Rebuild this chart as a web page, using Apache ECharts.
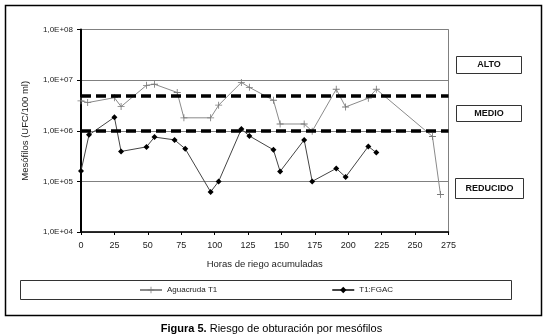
<!DOCTYPE html>
<html>
<head>
<meta charset="utf-8">
<script src="https://cdn.jsdelivr.net/npm/echarts@6/dist/echarts.min.js"></script>
<style>
  html, body { margin: 0; padding: 0; background: #fff; }
  #chart { width: 543px; height: 336px; }
</style>
</head>
<body>
<div id="chart"></div>
<script>
// hours of irrigation and mesophile counts (UFC/100 ml)
const aguaHours = [0, 5, 25, 30, 49, 55, 72, 77, 97, 103, 120, 126, 144, 149, 167, 173, 191, 198, 215, 221, 263, 269]
const aguaValues = [3.9e6, 3.6e6, 4.5e6, 3.0e6, 7.9e6, 8.3e6, 5.7e6, 1.8e6, 1.8e6, 3.2e6, 9.0e6, 7.2e6, 4.0e6, 1.36e6, 1.36e6, 9.8e5, 6.6e6, 2.95e6, 4.4e6, 6.6e6, 7.7e5, 5.5e4]
const fgacHours = [0, 6, 25, 30, 49, 55, 70, 78, 97, 103, 120, 126, 144, 149, 167, 173, 191, 198, 215, 221]
const fgacValues = [1.6e5, 8.3e5, 1.85e6, 3.9e5, 4.8e5, 7.5e5, 6.6e5, 4.4e5, 6.2e4, 1.0e5, 1.08e6, 7.9e5, 4.2e5, 1.57e5, 6.6e5, 1.0e5, 1.8e5, 1.22e5, 4.9e5, 3.7e5]
const thresholds = [5e6, 1e6]
const xTicks = { min: 0, max: 275, interval: 25 }
const riskLabels = ['ALTO', 'MEDIO', 'REDUCIDO']

const font = 'Liberation Sans, Arial, sans-serif'
let chart = echarts.init(document.getElementById('chart'))

const plusIcon = 'path://M4.4,0H5.6V4.4H10V5.6H5.6V10H4.4V5.6H0V4.4H4.4Z'

function riskBox (text, x, y, w, h) {
  return {
    type: 'group',
    left: x,
    top: y,
    children: [
      { type: 'rect', shape: { x: 0, y: 0, width: w, height: h }, style: { fill: '#fff', stroke: '#333', lineWidth: 1 } },
      { type: 'text', style: { x: w / 2, y: h / 2, text: text, fill: '#111', font: 'bold 9px ' + font, align: 'center', verticalAlign: 'middle' } }
    ]
  }
}

let option = {
  animation: false,
  textStyle: { fontFamily: font },
  title: {
    text: '{b|Figura 5.} Riesgo de obturación por mesófilos',
    left: 'center',
    top: 318,
    textStyle: {
      fontSize: 11,
      fontWeight: 'normal',
      color: '#000',
      fontFamily: font,
      rich: { b: { fontWeight: 'bold', fontSize: 11, fontFamily: font, color: '#000' } }
    }
  },
  grid: {
    left: 81,
    right: 94.5,
    top: 29.5,
    height: 202.5,
    show: true,
    borderColor: '#808080',
    borderWidth: 1
  },
  legend: {
    left: 134,
    top: 281,
    itemGap: 114,
    itemWidth: 22,
    itemHeight: 8,
    textStyle: { fontSize: 8, color: '#222', fontFamily: font },
    data: ['Aguacruda T1', 'T1:FGAC']
  },
  xAxis: {
    type: 'value',
    min: xTicks.min,
    max: xTicks.max,
    interval: xTicks.interval,
    name: 'Horas de riego acumuladas',
    nameLocation: 'middle',
    nameGap: 27,
    nameTextStyle: { fontSize: 9.5, color: '#222' },
    axisLine: { lineStyle: { color: '#000', width: 1.5 } },
    axisTick: { inside: false, length: 3, lineStyle: { color: '#000' } },
    axisLabel: { fontSize: 9, color: '#222', margin: 9 },
    splitLine: { show: false }
  },
  yAxis: {
    type: 'log',
    logBase: 10,
    min: 1e4,
    max: 1e8,
    name: 'Mesófilos (UFC/100 ml)',
    nameLocation: 'middle',
    nameGap: 51,
    nameTextStyle: { fontSize: 9.5, color: '#222' },
    axisLine: { show: true, lineStyle: { color: '#000', width: 2 } },
    axisTick: { show: true, length: 4, lineStyle: { color: '#000' } },
    axisLabel: {
      fontSize: 8,
      color: '#222',
      margin: 8,
      formatter: v => '1,0E+' + String(Math.round(Math.log10(v))).padStart(2, '0')
    },
    splitLine: { show: true, lineStyle: { color: '#808080', width: 1 } },
    minorTick: { show: false }
  },
  series: [
    {
      name: 'Aguacruda T1',
      type: 'line',
      data: aguaHours.map((h, i) => [h, aguaValues[i]]),
      symbol: plusIcon,
      symbolSize: 7,
      showAllSymbol: true,
      itemStyle: { color: '#7a7a7a' },
      lineStyle: { color: '#8a8a8a', width: 1 },
      z: 3
    },
    {
      name: 'T1:FGAC',
      type: 'line',
      data: fgacHours.map((h, i) => [h, fgacValues[i]]),
      symbol: 'diamond',
      symbolSize: 6,
      showAllSymbol: true,
      itemStyle: { color: '#000' },
      lineStyle: { color: '#444', width: 1 },
      z: 4
    },
    {
      // risk thresholds, drawn over the markers
      name: 'limites',
      type: 'line',
      data: [],
      z: 5,
      markLine: {
        silent: true,
        symbol: 'none',
        label: { show: false },
        lineStyle: { color: '#000', width: 3.5, type: [10, 5] },
        data: thresholds.map(t => ({ yAxis: t }))
      }
    }
  ],
  graphic: [
    { type: 'rect', left: 3, top: 3, shape: { width: 536, height: 310 }, style: { fill: 'none', stroke: '#000', lineWidth: 1.5 }, z: -1 },
    { type: 'rect', left: 18, top: 278, shape: { width: 491, height: 19 }, style: { fill: 'none', stroke: '#333', lineWidth: 1 }, z: -1 },
    riskBox(riskLabels[0], 456, 56, 65, 17),
    riskBox(riskLabels[1], 456, 105, 65, 16),
    riskBox(riskLabels[2], 455, 178, 68, 20)
  ]
}

chart.setOption(option)
</script>
</body>
</html>
